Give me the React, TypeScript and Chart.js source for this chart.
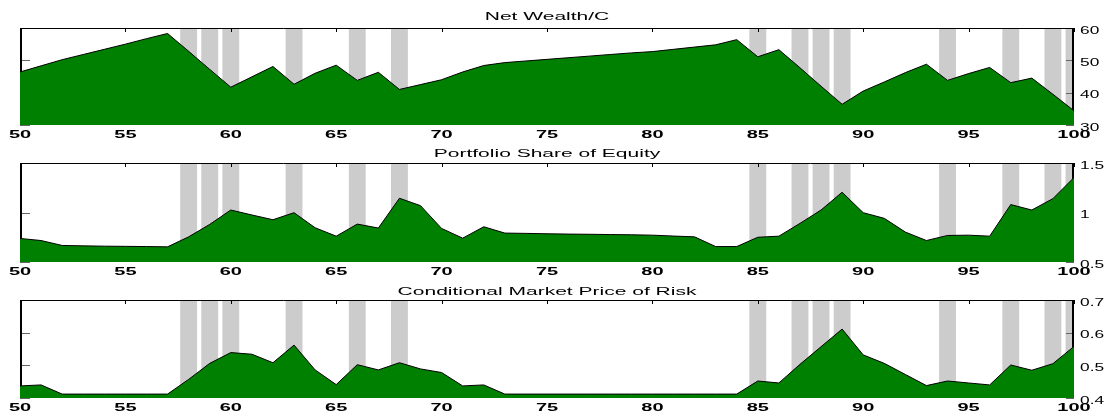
import React, { useEffect, useRef } from "react";
import { Chart, registerables } from "chart.js";

Chart.register(...registerables);

// ---------- data ----------
const YEARS = [
  50, 51, 52, 53, 54, 55, 56, 57, 58, 59, 60, 61, 62, 63, 64, 65, 66, 67, 68, 69,
  70, 71, 72, 73, 74, 75, 76, 77, 78, 79, 80, 81, 82, 83, 84, 85, 86, 87, 88, 89,
  90, 91, 92, 93, 94, 95, 96, 97, 98, 99, 100,
];

const SHADED_YEARS = [58, 59, 60, 63, 66, 68, 85, 87, 88, 89, 94, 97, 99, 100];

const NET_WEALTH = [
  46.4, 48.3, 50.2, 51.8, 53.4, 55.0, 56.7, 58.3, 52.8, 47.2, 41.7, 44.9, 48.1, 42.6, 46.0, 48.5, 43.8, 46.3, 41.0, 42.5,
  44.0, 46.4, 48.4, 49.3, 49.8, 50.3, 50.8, 51.3, 51.8, 52.3, 52.7, 53.4, 54.1, 54.8, 56.4, 51.1, 53.3, 47.7, 42.0, 36.4,
  40.5, 43.3, 46.2, 48.8, 43.8, 45.9, 47.8, 43.1, 44.5, 39.5, 34.4,
];

const EQUITY_SHARE = [
  0.738, 0.717, 0.667, 0.663, 0.660, 0.658, 0.656, 0.653, 0.754, 0.880, 1.025, 0.975, 0.927, 0.998, 0.846, 0.761, 0.883, 0.843, 1.144, 1.069,
  0.839, 0.741, 0.856, 0.792, 0.789, 0.785, 0.782, 0.780, 0.777, 0.775, 0.771, 0.762, 0.754, 0.656, 0.656, 0.750, 0.761, 0.890, 1.025, 1.205,
  0.998, 0.941, 0.802, 0.717, 0.768, 0.771, 0.761, 1.080, 1.025, 1.140, 1.354,
];

const PRICE_OF_RISK = [
  0.437, 0.440, 0.412, 0.412, 0.412, 0.412, 0.412, 0.412, 0.457, 0.506, 0.539, 0.534, 0.508, 0.562, 0.486, 0.441, 0.502, 0.486, 0.508, 0.489,
  0.478, 0.437, 0.440, 0.412, 0.412, 0.412, 0.412, 0.412, 0.412, 0.412, 0.412, 0.412, 0.412, 0.412, 0.412, 0.452, 0.446, 0.503, 0.557, 0.611,
  0.532, 0.506, 0.472, 0.438, 0.452, 0.446, 0.440, 0.501, 0.485, 0.505, 0.558,
];

const X_TICKS = [50, 55, 60, 65, 70, 75, 80, 85, 90, 95, 100];
const X_TICK_LABELS = ["50", "55", "60", "65", "70", "75", "80", "85", "90", "95", "100"];

const WEALTH_TICKS = [30, 40, 50, 60];
const WEALTH_TICK_LABELS = ["30", "40", "50", "60"];
const EQUITY_TICKS = [0.5, 1, 1.5];
const EQUITY_TICK_LABELS = ["0.5", "1", "1.5"];
const RISK_TICKS = [0.4, 0.5, 0.6, 0.7];
const RISK_TICK_LABELS = ["0.4", "0.5", "0.6", "0.7"];

const TITLES = ["Net Wealth/C", "Portfolio Share of Equity", "Conditional Market Price of Risk"];

// ---------- layout / style ----------
const WIDTH = 1112;
const PLOT_LEFT = 20;
const PLOT_RIGHT = 1074;
const GREEN = "#008000";
const SHADE = "#cccccc";
const FONT_FAMILY = '"Liberation Sans", Arial, Helvetica, sans-serif';

type PanelCfg = {
  title: string;
  values: number[];
  yMin: number;
  yMax: number;
  yTicks: number[];
  yLabels: string[];
  canvasTop: number;
  canvasH: number;
  top: number;
  bottom: number;
  titleGap: number;
};

const PANELS: PanelCfg[] = [
  { title: TITLES[0], values: NET_WEALTH, yMin: 30, yMax: 60, yTicks: WEALTH_TICKS, yLabels: WEALTH_TICK_LABELS, canvasTop: 0, canvasH: 140, top: 28, bottom: 125, titleGap: 8 },
  { title: TITLES[1], values: EQUITY_SHARE, yMin: 0.5, yMax: 1.5, yTicks: EQUITY_TICKS, yLabels: EQUITY_TICK_LABELS, canvasTop: 140, canvasH: 139, top: 163, bottom: 262, titleGap: 6.5 },
  { title: TITLES[2], values: PRICE_OF_RISK, yMin: 0.4, yMax: 0.7, yTicks: RISK_TICKS, yLabels: RISK_TICK_LABELS, canvasTop: 279, canvasH: 133, top: 300, bottom: 398, titleGap: 5 },
];

function stretchedText(
  ctx: CanvasRenderingContext2D,
  text: string,
  x: number,
  y: number,
  align: CanvasTextAlign,
  sx: number,
  font: string
) {
  ctx.save();
  ctx.translate(x, y);
  ctx.scale(sx, 1);
  ctx.font = font;
  ctx.textAlign = align;
  ctx.textBaseline = "alphabetic";
  ctx.fillStyle = "#000";
  ctx.fillText(text, 0, 0);
  ctx.restore();
}

function makeFramePlugin(cfg: PanelCfg) {
  return {
    id: "matlabFrame",
    afterDatasetDraw(chart: any, args: any) {
      if (args.meta.type !== "bar") return;
      const { ctx, chartArea: a, scales } = chart;
      const xs = scales.x;
      const ys = scales.y;
      ctx.save();
      // y tick marks (left and right, pointing inward)
      ctx.strokeStyle = "#666";
      ctx.lineWidth = 1;
      ctx.beginPath();
      for (const t of cfg.yTicks) {
        const py = Math.round(ys.getPixelForValue(t)) + 0.5;
        ctx.moveTo(a.left, py);
        ctx.lineTo(a.left + 10, py);
        ctx.moveTo(a.right - 8, py);
        ctx.lineTo(a.right, py);
      }
      ctx.stroke();
      // x tick marks on the top edge
      ctx.strokeStyle = "#000";
      ctx.beginPath();
      for (const t of X_TICKS) {
        const px = Math.round(xs.getPixelForValue(t)) + 0.5;
        ctx.moveTo(px, a.top);
        ctx.lineTo(px, a.top + 4);
      }
      ctx.stroke();
      // frame: top line thin, left/right thicker
      ctx.beginPath();
      ctx.lineWidth = 1;
      ctx.moveTo(a.left, a.top + 0.5);
      ctx.lineTo(a.right, a.top + 0.5);
      ctx.stroke();
      ctx.beginPath();
      ctx.lineWidth = 2;
      ctx.moveTo(a.left + 1, a.top);
      ctx.lineTo(a.left + 1, a.bottom);
      ctx.moveTo(a.right - 1, a.top);
      ctx.lineTo(a.right - 1, a.bottom);
      ctx.stroke();
      ctx.restore();
    },
    afterDraw(chart: any) {
      const { ctx, chartArea: a, scales } = chart;
      const xs = scales.x;
      const ys = scales.y;
      // title
      stretchedText(ctx, cfg.title, (a.left + a.right) / 2, a.top - cfg.titleGap, "center", 2.1, `normal 10px ${FONT_FAMILY}`);
      // x tick labels
      X_TICKS.forEach((t, i) => {
        stretchedText(ctx, X_TICK_LABELS[i], xs.getPixelForValue(t), a.bottom + 12.5, "center", 2.0, `bold 10px ${FONT_FAMILY}`);
      });
      // y tick labels on the right
      cfg.yTicks.forEach((t, i) => {
        stretchedText(ctx, cfg.yLabels[i], a.right + 6, ys.getPixelForValue(t) + 5.5, "left", 1.65, `normal 10.5px ${FONT_FAMILY}`);
      });
    },
  };
}

function Panel({ cfg }: { cfg: PanelCfg }) {
  const ref = useRef<HTMLCanvasElement | null>(null);
  useEffect(() => {
    if (!ref.current) return;
    const chart = new Chart(ref.current, {
      type: "bar",
      data: {
        datasets: [
          {
            type: "bar",
            data: SHADED_YEARS.map((yr) => ({ x: yr, y: [cfg.yMin, cfg.yMax] })) as any,
            backgroundColor: SHADE,
            borderWidth: 0,
            barPercentage: 0.8,
            categoryPercentage: 1.0,
            grouped: false,
            order: 2,
          } as any,
          {
            type: "line",
            data: YEARS.map((yr, i) => ({ x: yr, y: cfg.values[i] })),
            borderColor: "#000",
            borderWidth: 1,
            backgroundColor: GREEN,
            fill: "start",
            pointRadius: 0,
            tension: 0,
            order: 1,
          } as any,
        ],
      },
      options: {
        responsive: false,
        animation: false,
        events: [],
        layout: {
          padding: {
            left: PLOT_LEFT,
            right: WIDTH - PLOT_RIGHT,
            top: cfg.top - cfg.canvasTop,
            bottom: cfg.canvasTop + cfg.canvasH - cfg.bottom,
          },
        },
        scales: {
          x: { type: "linear", min: 50, max: 100, display: false, offset: false },
          y: { type: "linear", min: cfg.yMin, max: cfg.yMax, display: false, beginAtZero: false },
        },
        plugins: {
          legend: { display: false },
          tooltip: { enabled: false },
          title: { display: false },
        },
      } as any,
      plugins: [makeFramePlugin(cfg)],
    });
    return () => chart.destroy();
  }, [cfg]);
  return (
    <canvas
      ref={ref}
      width={WIDTH}
      height={cfg.canvasH}
      style={{ position: "absolute", left: 0, top: cfg.canvasTop, display: "block" }}
    />
  );
}

export default function App() {
  return (
    <div style={{ position: "absolute", left: 0, top: 0, width: WIDTH, height: 412, background: "#fff", overflow: "hidden" }}>
      {PANELS.map((p, i) => (
        <Panel key={i} cfg={p} />
      ))}
    </div>
  );
}
